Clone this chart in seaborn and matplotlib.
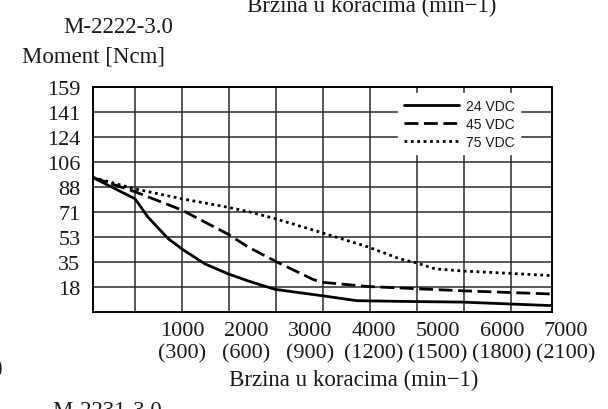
import matplotlib
matplotlib.use("Agg")
import matplotlib.pyplot as plt
import matplotlib.transforms as mtransforms
import numpy as np
import pandas as pd
import seaborn as sns

# speed in steps/min (read against the tick label row), moment in Ncm
speed_24 = [-390, 266, 469, 781, 1000, 1359, 1719, 2031, 2453, 3188, 3734, 4406, 5375, 6780]
moment_24 = [95, 80, 67, 52, 44.5, 34, 27, 22, 16, 11.5, 8, 7.5, 7, 4.5]

speed_45 = [-390, 266, 1000, 1719, 2031, 2453, 3047, 3188, 3906, 4406, 5375, 6780]
moment_45 = [95, 85, 72, 55, 46, 36, 23, 21, 18, 17, 15, 12.7]

speed_75 = [-390, 266, 1000, 1719, 2031, 2453, 3188, 3906, 4406, 4641, 4953, 5375, 6125, 6780]
moment_75 = [95, 87, 80, 74, 71, 66, 56, 46, 37.5, 35, 30.5, 29, 27.3, 25.7]

speed_ticks = [1000, 2000, 3000, 4000, 5000, 6000, 7000]
step_ticks = [300, 600, 900, 1200, 1500, 1800, 2100]
moment_ticks = ["18", "35", "53", "71", "88", "106", "124", "141", "159"]

sns.set_theme(style="white")
plt.rcParams["font.family"] = ["Liberation Serif", "DejaVu Serif"]
plt.rcParams["text.color"] = "#1a1a1a"

df24 = pd.DataFrame({"speed": speed_24, "moment": moment_24})
df45 = pd.DataFrame({"speed": speed_45, "moment": moment_45})
df75 = pd.DataFrame({"speed": speed_75, "moment": moment_75})

fig = plt.figure(figsize=(6.08, 4.10), dpi=100)
ax = fig.add_axes([93 / 608, 1 - 313 / 410, 459 / 608, 225 / 410])

sns.lineplot(data=df24, x="speed", y="moment", ax=ax, color="black", lw=2.0,
             label="24 VDC", errorbar=None)
sns.lineplot(data=df45, x="speed", y="moment", ax=ax, color="black", lw=2.0,
             linestyle=(0, (5, 2)), label="45 VDC", errorbar=None)
sns.lineplot(data=df75, x="speed", y="moment", ax=ax, color="black", lw=2.0,
             linestyle=(0, (1, 1.3)), label="75 VDC", errorbar=None)

ax.set_xlim(-390, 6780)
ax.set_ylim(0, 159)

# grid
ax.set_xticks([])
ax.set_xticks(1000 + 734 * np.arange(-1, 8), minor=True)
ax.set_yticks(np.arange(1, 10) * 159 / 9, moment_ticks)
ax.grid(which="minor", axis="x", color="#2a2a2a", lw=1.1)
ax.grid(which="major", axis="y", color="#2a2a2a", lw=1.1)
ax.tick_params(which="both", length=0)
ax.tick_params(axis="y", pad=9, labelsize=16, labelcolor="#1a1a1a")
for s in ax.spines.values():
    s.set_color("black")
    s.set_linewidth(1.4)
ax.set_xlabel("")
ax.set_ylabel("")

trans = mtransforms.blended_transform_factory(ax.transData, ax.transAxes)
for v, r in zip(speed_ticks, step_ticks):
    ax.text(v, -0.04, f"{v}\n({r})", transform=trans, ha="center", va="top",
            fontsize=16, clip_on=False)

leg = ax.legend(loc="upper left", bbox_to_anchor=((398 - 93) / 459, (313 - 94) / 225),
                frameon=True, facecolor="white", edgecolor="white", framealpha=1,
                fancybox=False, prop={"family": "Liberation Sans", "size": 10},
                handlelength=4, handletextpad=0.5, labelspacing=0.3,
                borderpad=0.4, borderaxespad=0)

fig.text(118 / 608, 1 - 33 / 410, "M-2222-3.0", ha="center", va="baseline", fontsize=16.5)
fig.text(93 / 608, 1 - 63 / 410, "Moment [Ncm]", ha="center", va="baseline", fontsize=16.5)
fig.text(354 / 608, 1 - 386 / 410, "Brzina u koracima (min\u22121)", ha="center",
         va="baseline", fontsize=16.5)
# neighbouring figures' captions, cut by the crop as in the scan
fig.text(372 / 608, 1 - 12 / 410, "Brzina u koracima (min\u22121)", ha="center",
         va="baseline", fontsize=16.5)
fig.text(107 / 608, 1 - 401 / 410, "M-2231-3.0", ha="center", va="top", fontsize=16.5)
fig.text(-2 / 608, 1 - 368 / 410, ")", ha="center", va="center", fontsize=16.5)

fig.savefig("out.png", dpi=100, facecolor="white")
